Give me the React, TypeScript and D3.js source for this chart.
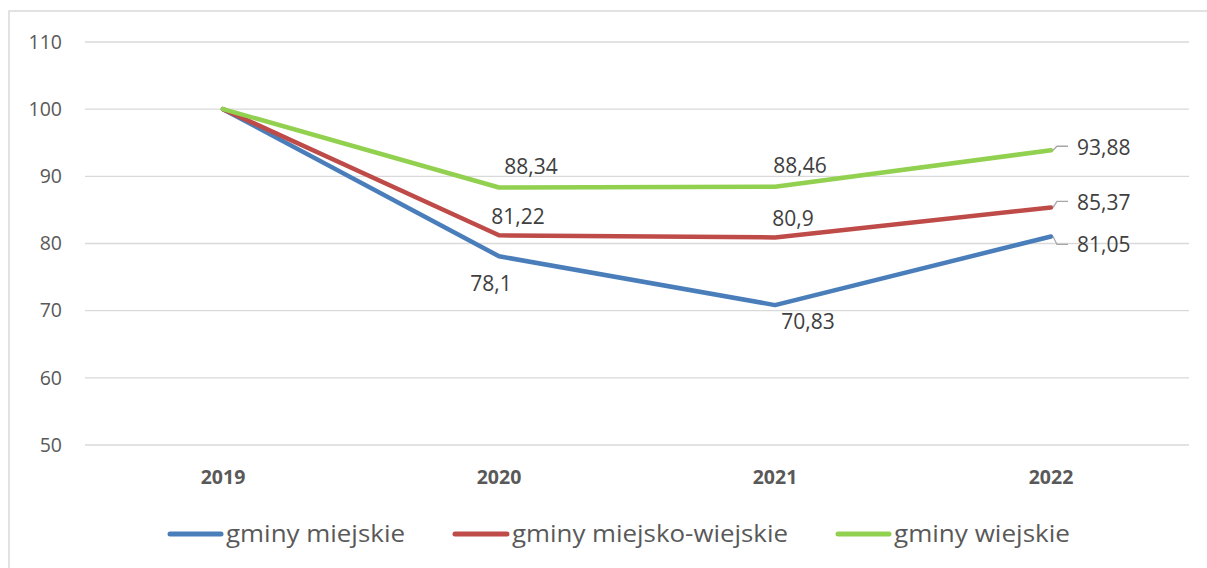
import React from 'react';
import * as d3 from 'd3';

const years = ['2019', '2020', '2021', '2022'];
const yTicks = [50, 60, 70, 80, 90, 100, 110];
const miejskie = [100, 78.1, 70.83, 81.05];
const miejskoWiejskie = [100, 81.22, 80.9, 85.37];
const wiejskie = [100, 88.34, 88.46, 93.88];

const series = [
  { name: 'gminy miejskie', values: miejskie, color: '#4A7EBB' },
  { name: 'gminy miejsko-wiejskie', values: miejskoWiejskie, color: '#BE4B48' },
  { name: 'gminy wiejskie', values: wiejskie, color: '#92D050' },
];

// label offsets from each point (first point has no label)
const labelPos = [
  [null, { dx: -8, dy: 27 }, { dx: 33, dy: 17 }, { dx: 26, dy: 8 }],
  [null, { dx: 19, dy: -19 }, { dx: 18, dy: -19 }, { dx: 26, dy: -5 }],
  [null, { dx: 32, dy: -21 }, { dx: 25, dy: -21 }, { dx: 26, dy: -3 }],
];
const leaderDy = [8, -6, -4];

// legend layout: line start, text start, text width
const legendLayout = [
  { x: 168, tx: 226, w: 179 },
  { x: 453, tx: 512, w: 276 },
  { x: 836, tx: 894, w: 176 },
];

const fmt = (v: number) => String(v).replace('.', ',');

const App = () => {
  const width = 1207;
  const height = 568;
  const x = d3.scalePoint<string>().domain(years).range([85, 1189]).padding(0.5);
  const y = d3.scaleLinear().domain([50, 110]).range([445, 42]);
  const line = d3
    .line<number>()
    .x((_, i) => x(years[i])!)
    .y((d) => y(d));

  const font = '"Open Sans", sans-serif';

  return (
    <svg width={width} height={height} style={{ position: 'absolute', left: 0, top: 0 }}>
      <rect x={0} y={0} width={width} height={height} fill="#fff" />
      <path d={`M9,568 V11 H1207`} fill="none" stroke="#d9d9d9" strokeWidth={1.5} />
      {yTicks.map((t) => (
        <g key={t}>
          <line x1={85} x2={1189} y1={y(t)} y2={y(t)} stroke="#d9d9d9" strokeWidth={1.3} />
          <text x={62} y={y(t)} dy="0.35em" textAnchor="end" fontFamily={font} fontSize={19.5} fill="#595959">
            {t}
          </text>
        </g>
      ))}
      {years.map((yr) => (
        <text key={yr} x={x(yr)} y={477} dy="0.35em" textAnchor="middle" fontFamily={font} fontSize={19.5} fontWeight="bold" fill="#595959">
          {yr}
        </text>
      ))}
      {series.map((s) => (
        <path key={s.name} d={line(s.values)!} fill="none" stroke={s.color} strokeWidth={4.5} strokeLinejoin="round" strokeLinecap="round" />
      ))}
      {series.map((s, si) => {
        const px = x(years[3])!;
        const py = y(s.values[3]);
        const ly = py + leaderDy[si];
        return (
          <path key={'ld' + si} d={`M${px + 2},${py} L${px + 6},${ly} H${px + 17}`} fill="none" stroke="#a6a6a6" strokeWidth={1.3} />
        );
      })}
      {series.map((s, si) =>
        s.values.map((v, i) => {
          const p = labelPos[si][i];
          if (!p) return null;
          return (
            <text
              key={si + '-' + i}
              x={x(years[i])! + p.dx}
              y={y(v) + p.dy}
              dy="0.35em"
              textAnchor={i === 3 ? 'start' : 'middle'}
              fontFamily={font}
              fontSize={21}
              fill="#404040"
            >
              {fmt(v)}
            </text>
          );
        })
      )}
      {series.map((s, si) => {
        const l = legendLayout[si];
        return (
          <g key={'lg' + si}>
            <line x1={l.x + 2} x2={l.tx - 5} y1={534} y2={534} stroke={s.color} strokeWidth={5} strokeLinecap="round" />
            <text
              x={l.tx}
              y={534}
              dy="0.35em"
              fontFamily={font}
              fontSize={23}
              fill="#595959"
              textLength={l.w}
              lengthAdjust="spacingAndGlyphs"
            >
              {s.name}
            </text>
          </g>
        );
      })}
    </svg>
  );
};

export default App;
